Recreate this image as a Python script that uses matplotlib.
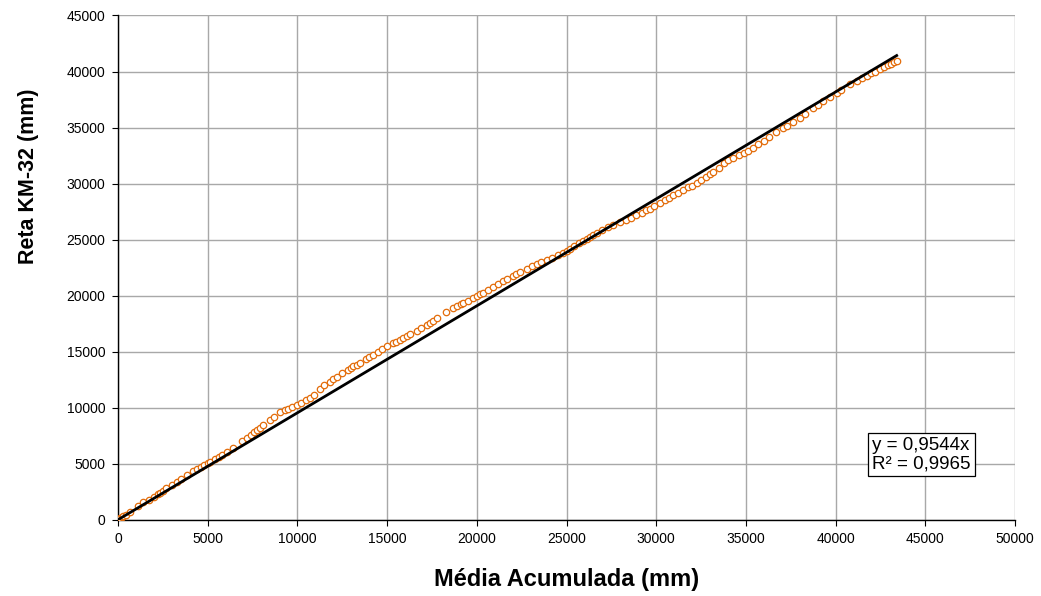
import numpy as np
import matplotlib.pyplot as plt

plt.rcParams['font.family'] = ['Liberation Sans', 'DejaVu Sans']

# =====================================================
# DATA
# =====================================================
media_acum = [
    0, 60, 120, 200, 300, 450, 670, 1100, 1410, 1700, 2000, 2200, 2340, 2500,
    2700, 3000, 3270, 3500, 3830, 4200, 4390, 4600, 4800, 5000,
    5130, 5400, 5600, 5800, 6060, 6400, 6900, 7170, 7400, 7600, 7730, 7900,
    8100, 8470, 8700, 9030, 9300, 9500, 9700, 9960,
    10200, 10500, 10700, 10900, 11260, 11500, 11800, 12000, 12190, 12500,
    12800, 13000, 13120, 13300, 13500, 13800, 14000, 14230, 14500, 14700, 14980,
    15300, 15500, 15720, 15900, 16100, 16300, 16650, 16900, 17200, 17400,
    17580, 17800, 18300, 18690, 18900, 19100, 19250, 19500, 19800, 20000,
    20200, 20360, 20600, 20900, 21200, 21480, 21700, 22000, 22200, 22410,
    22800, 23100, 23340, 23600, 23900, 24200, 24500, 24800, 25010,
    25200, 25400, 25700, 25900, 26125, 26300, 26500, 26700, 27000, 27300,
    27600, 28000, 28300, 28600, 28900, 29200, 29450, 29650, 29900,
    30200, 30500, 30700, 30950, 31200, 31500, 31800, 32000, 32260, 32500,
    32800, 33000, 33185, 33500, 33800, 34020, 34300, 34600, 34900, 35100, 35410,
    35700, 36000, 36300, 36700, 37085, 37300, 37600, 38015, 38300, 38760,
    39000, 39300, 39700, 40060, 40300, 40800, 41200, 41500, 41730, 42000,
    42200, 42475, 42700, 42900, 43100, 43250, 43405,
]
reta_km32 = [
    0, 50, 110, 200, 300, 460, 730, 1200, 1570, 1760, 2060, 2280, 2410, 2560,
    2790, 3110, 3370, 3610, 3970, 4330, 4510, 4690, 4840, 5020,
    5150, 5410, 5620, 5810, 6060, 6440, 7000, 7310, 7600, 7850, 8000, 8200,
    8430, 8880, 9180, 9620, 9780, 9890, 10020, 10250,
    10420, 10660, 10830, 11100, 11680, 11980, 12320, 12570, 12780, 13080,
    13380, 13570, 13680, 13850, 14030, 14320, 14500, 14720, 15000, 15200, 15480,
    15750, 15900, 16070, 16230, 16410, 16580, 16880, 17110, 17390, 17570,
    17730, 17970, 18510, 18930, 19100, 19250, 19370, 19560, 19780, 19940,
    20120, 20260, 20470, 20740, 21010, 21270, 21460, 21720, 21890, 22080,
    22400, 22640, 22830, 23000, 23190, 23400, 23610, 23840, 24020,
    24200, 24390, 24680, 24860, 25070, 25230, 25410, 25590, 25870, 26100,
    26340, 26570, 26760, 26950, 27160, 27400, 27610, 27770, 27990,
    28260, 28540, 28730, 28970, 29180, 29410, 29650, 29800, 30030, 30300,
    30620, 30820, 31020, 31420, 31840, 32110, 32310, 32520, 32750, 32910, 33200,
    33510, 33840, 34170, 34590, 34970, 35180, 35480, 35880, 36220, 36780,
    37040, 37360, 37760, 38110, 38350, 38850, 39170, 39420, 39610, 39830,
    39990, 40210, 40380, 40540, 40700, 40820, 40950,
]

coef = 0.9544
r2 = 0.9965

# =====================================================
# GRÁFICO
# =====================================================
fig = plt.figure(figsize=(10.41, 5.96), dpi=100)
ax = fig.add_axes([0.1134, 0.128, 0.8616, 0.846])

ax.plot(media_acum, reta_km32, linestyle="none", marker="o", markersize=4.6,
        markerfacecolor="white", markeredgecolor="#E36C0A", markeredgewidth=0.9,
        zorder=3)

x_lin = np.array([0, max(media_acum)])
ax.plot(x_lin, coef * x_lin, color="black", linewidth=2.0, zorder=4)

ax.set_xlim(0, 50000)
ax.set_ylim(0, 45000)
ax.set_xticks(np.arange(0, 50001, 5000))
ax.set_yticks(np.arange(0, 45001, 5000))
ax.tick_params(labelsize=10, length=4, width=0.8, direction="out", pad=5)

ax.grid(True, color="#a8a8a8", linewidth=1.0)
ax.set_axisbelow(True)
for s in ["top", "right"]:
    ax.spines[s].set_visible(False)
for s in ["left", "bottom"]:
    ax.spines[s].set_color("black")
    ax.spines[s].set_linewidth(1.0)

ax.set_xlabel("Média Acumulada (mm)", fontsize=17, fontweight="bold", labelpad=16)
ax.set_ylabel("Reta KM-32 (mm)", fontsize=15.5, fontweight="bold")
ax.yaxis.set_label_coords(-0.088, 0.682)

ax.text(0.8406, 0.164, f"y = {coef:.4f}x\nR² = {r2:.4f}".replace(".", ","),
        transform=ax.transAxes, fontsize=13.5, va="top", ha="left",
        linespacing=1.1,
        bbox=dict(boxstyle="square,pad=0.22", facecolor="white",
                  edgecolor="black", linewidth=0.9), zorder=5)

plt.savefig("out.png", dpi=100)
